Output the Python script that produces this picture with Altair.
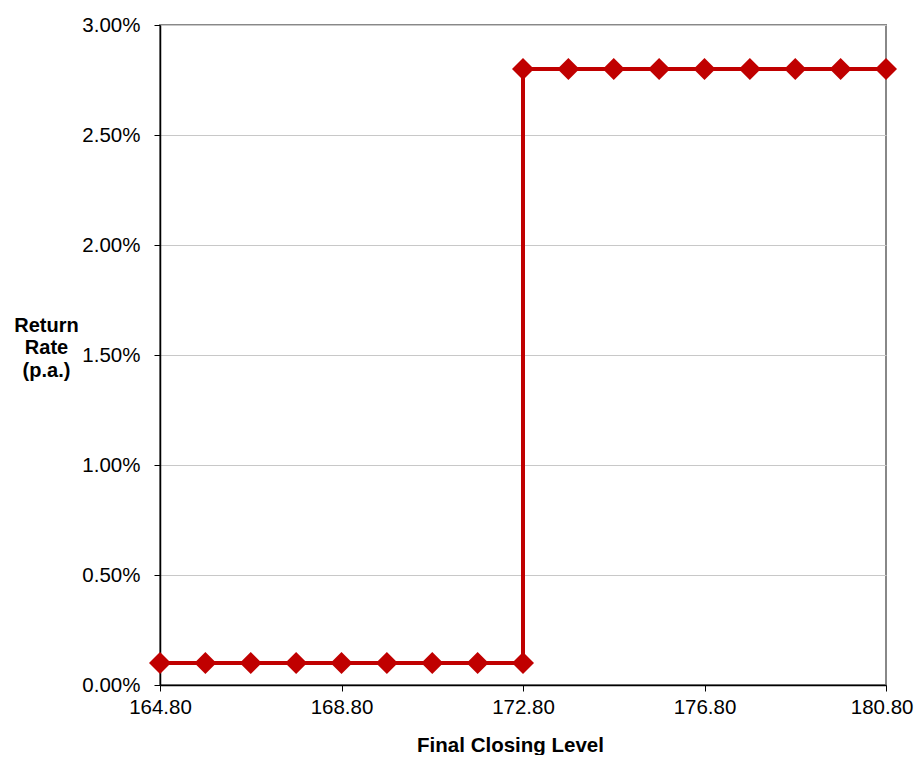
import altair as alt
import pandas as pd

levels = [164.8, 165.8, 166.8, 167.8, 168.8, 169.8, 170.8, 171.8, 172.8,
          172.8, 173.8, 174.8, 175.8, 176.8, 177.8, 178.8, 179.8, 180.8]
returns = [0.001] * 9 + [0.028] * 9
x_ticks = [164.8, 168.8, 172.8, 176.8, 180.8]
y_ticks = [0, 0.005, 0.01, 0.015, 0.02, 0.025, 0.03]

df = pd.DataFrame({"level": levels, "ret": returns, "order": list(range(len(levels)))})

red = "#C00000"
font = "Liberation Sans"

x = alt.X("level:Q", scale=alt.Scale(domain=[164.8, 180.8], nice=False, zero=False),
          axis=alt.Axis(values=x_ticks, format=".2f", title="Final Closing Level",
                        grid=False, domainColor="black", domainWidth=1.5,
                        tickColor="black", tickSize=6, labelFontSize=20.5,
                        labelFont=font, labelColor="black",
                        labelPadding=6, titleFont=font,
                        labelAlign={"condition": {"test": "datum.value >= 180.7", "value": "right"}, "value": "center"},
                        labelOffset={"condition": {"test": "datum.value >= 180.7", "value": 27}, "value": 0},
                        titleFontSize=20.5, titleFontWeight="bold", titleColor="black",
                        titleX=350, titleY=66, titleBaseline="alphabetic", labelFlush=False))
y = alt.Y("ret:Q", scale=alt.Scale(domain=[0, 0.03], nice=False),
          axis=alt.Axis(values=y_ticks, format=".2%",
                        title=["Return", "Rate", "(p.a.)"],
                        titleAngle=0, titleX=-114, titleY=300, titleAlign="center",
                        titleBaseline="middle", titleLineHeight=22.5,
                        titleFont=font, titleFontSize=20,
                        titleFontWeight="bold", titleColor="black",
                        grid=True, gridColor="#c8c8c8", gridWidth=1,
                        domainColor="black", domainWidth=1.5,
                        tickColor="black", tickSize=6, labelFontSize=20.5,
                        labelFont=font, labelColor="black",
                        labelPadding=14))

line = alt.Chart(df).mark_line(color=red, strokeWidth=4).encode(x=x, y=y, order="order:Q")
pts = alt.Chart(df).mark_point(shape="diamond", filled=True, color=red, size=484, opacity=1).encode(x=x, y=y)

chart = (line + pts).properties(
    width=726, height=660,
    autosize=alt.AutoSizeParams(type="none"),
    padding={"left": 152, "top": 17, "right": 28, "bottom": 70},
).configure_view(stroke="#888888", strokeWidth=2)

chart.save("out.html", embed_options={"renderer": "svg", "actions": False})
